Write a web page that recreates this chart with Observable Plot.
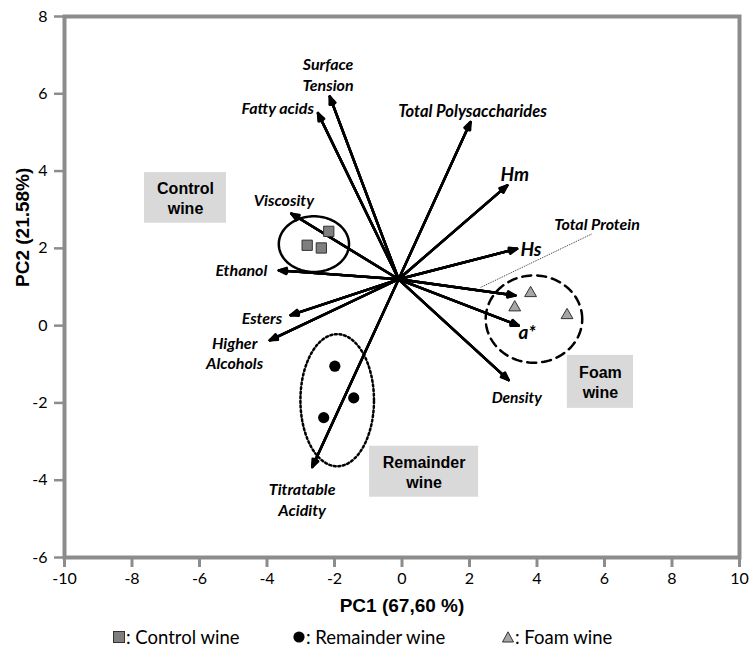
<!DOCTYPE html>
<html><head><meta charset="utf-8">
<script src="https://cdn.jsdelivr.net/npm/d3@7"></script>
<script src="https://cdn.jsdelivr.net/npm/@observablehq/plot@0.6"></script>
<style>
body{margin:0;background:#fff;}
#chart{width:751px;}
#legend{position:relative;width:751px;height:27px;font-family:Lato,"Open Sans",sans-serif;font-size:18.5px;color:#000;}
.item{position:absolute;top:6px;height:22px;line-height:22px;display:flex;align-items:center;white-space:nowrap;}
.item svg{margin-right:1px;}
</style></head><body><div id="chart"></div><div id="legend"></div>
<script>
// ---- Loadings (variable vectors) ----
const variables = ["Surface Tension","Fatty acids","Viscosity","Ethanol","Esters","Higher Alcohols","Titratable Acidity","Total Polysaccharides","Hm","Hs","Total Protein","a*","Density"];
const loadingPC1 = [-2.14,-2.49,-3.28,-3.65,-3.30,-3.92,-2.66,2.03,3.12,3.41,3.36,3.46,3.16];
const loadingPC2 = [5.93,5.50,2.90,1.43,0.27,-0.38,-3.66,5.27,3.63,1.99,0.78,0.00,-1.41];
const originPC1 = -0.1, originPC2 = 1.2;

// ---- Sample scores ----
const groups = ["Control wine","Remainder wine","Foam wine"];
const controlPC1 = [-2.17,-2.81,-2.39];
const controlPC2 = [2.44,2.08,2.01];
const remainderPC1 = [-1.99,-1.43,-2.32];
const remainderPC2 = [-1.05,-1.87,-2.38];
const foamPC1 = [3.81,3.34,4.89];
const foamPC2 = [0.84,0.47,0.27];

// ---- Group ellipses (centre, radii) ----
const ellipseCX = [-2.61,-1.92,3.91];
const ellipseCY = [2.11,-1.93,0.17];
const ellipseRX = [1.04,1.09,1.43];
const ellipseRY = [0.72,1.71,1.13];

// ---- Axis ticks ----
const xTicks = [-10,-8,-6,-4,-2,0,2,4,6,8,10];
const yTicks = [-6,-4,-2,0,2,4,6,8];

// build tables
const vectors = variables.map((v,i)=>({v, x1:originPC1, y1:originPC2, x2:loadingPC1[i], y2:loadingPC2[i]}));
const samples = [
  ...controlPC1.map((x,i)=>({g:groups[0], x, y:controlPC2[i]})),
  ...remainderPC1.map((x,i)=>({g:groups[1], x, y:remainderPC2[i]})),
  ...foamPC1.map((x,i)=>({g:groups[2], x, y:foamPC2[i]}))
];
const angles = d3.range(0, 361, 3);
const ellipses = groups.map((g,k)=>angles.map(a=>({g,
  x: ellipseCX[k] + ellipseRX[k]*Math.cos(a*Math.PI/180),
  y: ellipseCY[k] + ellipseRY[k]*Math.sin(a*Math.PI/180)})));

// label placement (annotation layout)
const labelFont = "Lato, 'Open Sans', sans-serif";
const labels = [
  {t:"Surface\nTension", x:-2.19, y:6.51, a:"middle", s:16},
  {t:"Fatty acids", x:-2.61, y:5.65, a:"end", s:16},
  {t:"Viscosity", x:-3.50, y:3.27, a:"middle", s:16},
  {t:"Ethanol", x:-4.76, y:1.46, a:"middle", s:16},
  {t:"Esters", x:-4.15, y:0.22, a:"middle", s:16},
  {t:"Higher\nAlcohols", x:-4.96, y:-0.69, a:"middle", s:16},
  {t:"Titratable\nAcidity", x:-2.96, y:-4.49, a:"middle", s:16},
  {t:"Total Polysaccharides", x:2.09, y:5.57, a:"middle", s:16.5},
  {t:"Hm", x:2.92, y:3.94, a:"start", s:19},
  {t:"Hs", x:3.51, y:2.0, a:"start", s:19},
  {t:"a*", x:3.71, y:-0.15, a:"middle", s:19},
  {t:"Density", x:3.40, y:-1.83, a:"middle", s:15.5},
  {t:"Total Protein", x:5.78, y:2.65, a:"middle", s:16}
];
const leader = [{x1:2.33, y1:0.99, x2:5.64, y2:2.38}];
const boxes = [
  {t:"Control\nwine", x1:-7.63, x2:-5.20, y1:2.65, y2:3.96},
  {t:"Remainder\nwine", x1:-0.96, x2:2.27, y1:-4.44, y2:-3.12},
  {t:"Foam\nwine", x1:4.90, x2:6.86, y1:-2.14, y2:-0.77}
];

const gray = "#8c8c8c";
const sw = 2.4;
const arrowLayers = [44, 32, 20, 8].map(ang => Plot.arrow(vectors, {
  x1:"x1", y1:"y1", x2:"x2", y2:"y2", stroke:"#000", strokeWidth:sw,
  headLength:5.2, headAngle:ang
}));
const labelMarks = ["start","middle","end"].map(anchor => Plot.text(labels.filter(d=>d.a===anchor), {
  x:"x", y:"y", text:"t", textAnchor:anchor, fontSize:d=>d.s, fontFamily:labelFont,
  fontWeight:"bold", fontStyle:"italic", lineHeight:1.3, fill:"#000"
}));

const plot = Plot.plot({
  width: 751, height: 620,
  marginLeft: 64, marginRight: 12, marginTop: 16, marginBottom: 63,
  x: {domain:[-10,10]},
  y: {domain:[-6,8]},
  style: {background:"#fff"},
  marks: [
    Plot.rect(boxes, {x1:"x1", x2:"x2", y1:"y1", y2:"y2", fill:"#d9d9d9"}),
    Plot.text(boxes, {x:d=>(d.x1+d.x2)/2, y:d=>(d.y1+d.y2)/2, text:"t", fontFamily:"'Liberation Sans', Arial, sans-serif", fontWeight:"bold", fontSize:16, lineHeight:1.25, fill:"#000"}),
    Plot.line(ellipses[0], {x:"x", y:"y", stroke:"#000", strokeWidth:2.5}),
    Plot.line(ellipses[1], {x:"x", y:"y", stroke:"#000", strokeWidth:2.5, strokeDasharray:"2 2.6"}),
    Plot.line(ellipses[2], {x:"x", y:"y", stroke:"#000", strokeWidth:2.5, strokeDasharray:"9 6"}),
    Plot.link(leader, {x1:"x1", y1:"y1", x2:"x2", y2:"y2", stroke:"#000", strokeWidth:0.8, strokeDasharray:"1 1"}),
    ...arrowLayers,
    Plot.dot(samples.filter(d=>d.g===groups[0]), {x:"x", y:"y", symbol:"square", r:5.8, fill:"#7f7f7f", stroke:"#333", strokeWidth:1}),
    Plot.dot(samples.filter(d=>d.g===groups[1]), {x:"x", y:"y", symbol:"circle", r:5.6, fill:"#000", stroke:"none"}),
    Plot.dot(samples.filter(d=>d.g===groups[2]), {x:"x", y:"y", symbol:"triangle", r:4.4, fill:"#a6a6a6", stroke:"#333", strokeWidth:1}),
    ...labelMarks,
    Plot.frame({stroke:gray, strokeWidth:4}),
    Plot.axisX({ticks:xTicks, tickSize:10, tickPadding:5, stroke:gray, strokeWidth:3, fill:"#000", fontSize:16, fontFamily:labelFont, label:null, tickFormat:d=>String(d)}),
    Plot.axisY({ticks:yTicks, tickSize:10, tickPadding:7, stroke:gray, strokeWidth:2.5, fill:"#000", fontSize:16, fontFamily:labelFont, label:null, tickFormat:d=>String(d)}),
    Plot.text(["PC1 (67,60 %)"], {frameAnchor:"bottom", dy:54, text:d=>d, fontFamily:"'Liberation Sans', Arial, sans-serif", fontWeight:"bold", fontSize:19, fill:"#000"}),
    Plot.text(["PC2 (21.58%)"], {frameAnchor:"left", dx:-42, rotate:-90, text:d=>d, fontFamily:"'Liberation Sans', Arial, sans-serif", fontWeight:"bold", fontSize:19, fill:"#000"})
  ]
});
document.getElementById("chart").appendChild(plot);

// legend
const legend = document.getElementById("legend");
const items = [
  {x:113, svg:'<svg width="12" height="12"><rect x="0.5" y="0.5" width="11" height="11" fill="#7f7f7f" stroke="#333"/></svg>', label:groups[0]},
  {x:293, svg:'<svg width="12" height="12"><circle cx="6" cy="6" r="5.6" fill="#000"/></svg>', label:groups[1]},
  {x:502, svg:'<svg width="12" height="12"><path d="M6,0.8 L11.5,11 L0.5,11 Z" fill="#a6a6a6" stroke="#333"/></svg>', label:groups[2]}
];
items.forEach(it=>{
  const d = document.createElement("div");
  d.className = "item";
  d.style.left = it.x + "px";
  d.innerHTML = it.svg + "<span>: " + it.label + "</span>";
  legend.appendChild(d);
});
</script>
</body></html>
